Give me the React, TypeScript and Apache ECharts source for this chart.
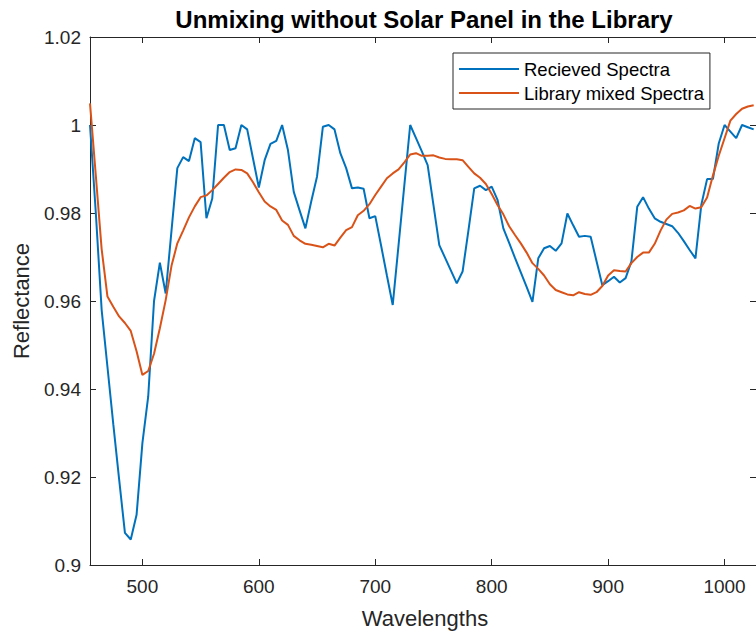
import React, { useEffect, useRef } from "react";
import * as echarts from "echarts";

// Wavelength samples (nm)
const wavelengths = [
  455, 460, 465, 470, 475, 480, 485, 490, 495, 500,
  505, 510, 515, 520, 525, 530, 535, 540, 545, 550,
  555, 560, 565, 570, 575, 580, 585, 590, 595, 600,
  605, 610, 615, 620, 625, 630, 635, 640, 645, 650,
  655, 660, 665, 670, 675, 680, 685, 690, 695, 700,
  705, 710, 715, 720, 725, 730, 735, 740, 745, 750,
  755, 760, 765, 770, 775, 780, 785, 790, 795, 800,
  805, 810, 815, 820, 825, 830, 835, 840, 845, 850,
  855, 860, 865, 870, 875, 880, 885, 890, 895, 900,
  905, 910, 915, 920, 925, 930, 935, 940, 945, 950,
  955, 960, 965, 970, 975, 980, 985, 990, 995, 1000,
  1005, 1010, 1015, 1020, 1025,
];

// Measured reflectance
const receivedSpectra = [
  1.0, 0.98, 0.958, 0.945, 0.932, 0.9195, 0.9073, 0.9058, 0.9114, 0.9277,
  0.9383, 0.96, 0.9687, 0.9617, 0.976, 0.9902, 0.9927, 0.9918, 0.997, 0.9961,
  0.9788, 0.9833, 1.0, 1.0, 0.9943, 0.9947, 1.0, 0.999, 0.9924, 0.9858,
  0.992, 0.9957, 0.9964, 1.0, 0.9943, 0.9848, 0.9806, 0.9765, 0.9826, 0.9883,
  0.9996, 1.0, 0.999, 0.9936, 0.9902, 0.9856, 0.9858, 0.9855, 0.9788, 0.9793,
  0.9726, 0.9658, 0.9591, 0.9727, 0.9864, 1.0, 0.997, 0.994, 0.9909, 0.9818,
  0.9727, 0.9698, 0.9669, 0.964, 0.9667, 0.976, 0.9856, 0.9862, 0.9852, 0.986,
  0.983, 0.9765, 0.9732, 0.9698, 0.9665, 0.9632, 0.9598, 0.9697, 0.972, 0.9725,
  0.9714, 0.9731, 0.9799, 0.9772, 0.9746, 0.9748, 0.9746, 0.9691, 0.9636, 0.9645,
  0.9655, 0.9642, 0.9652, 0.969, 0.9814, 0.9836, 0.981, 0.9788, 0.978, 0.9775,
  0.977, 0.9755, 0.9736, 0.9716, 0.9697, 0.9818, 0.9877, 0.9877, 0.9958, 1.0,
  0.9985, 0.997, 1.0, 0.9995, 0.999,
];

// Reconstructed reflectance from the library endmembers
const libraryMixedSpectra = [
  1.0049, 0.9885, 0.9718, 0.961, 0.9587, 0.9565, 0.955, 0.9532, 0.9486, 0.9432,
  0.9441, 0.948, 0.9538, 0.9602, 0.968, 0.9731, 0.976, 0.979, 0.9815, 0.9836,
  0.984, 0.9852, 0.9866, 0.988, 0.9893, 0.9899, 0.9898, 0.989, 0.987, 0.9847,
  0.9826, 0.9815, 0.9807, 0.9783, 0.9773, 0.9748, 0.9738, 0.973, 0.9728, 0.9725,
  0.9722, 0.973, 0.9726, 0.9744, 0.9761, 0.9768, 0.9795, 0.9805, 0.982, 0.9841,
  0.986, 0.9879, 0.989, 0.9899, 0.9915, 0.9933, 0.9936, 0.993, 0.993, 0.9931,
  0.9926, 0.9923, 0.9922, 0.9922, 0.992, 0.9905, 0.989, 0.988, 0.9866, 0.9843,
  0.9818, 0.9797, 0.977, 0.975, 0.9731, 0.971, 0.9686, 0.9673, 0.9658, 0.9638,
  0.9625, 0.962, 0.9615, 0.9613, 0.962, 0.9616, 0.9614, 0.962, 0.9634, 0.9658,
  0.967, 0.9668, 0.9667, 0.9686, 0.97, 0.971, 0.971, 0.973, 0.976, 0.9785,
  0.9798, 0.9801, 0.9806, 0.9816, 0.981, 0.9813, 0.9835, 0.9885, 0.993, 0.997,
  1.001, 1.0025, 1.0037, 1.0042, 1.0045,
];

const xTickValues = [500, 600, 700, 800, 900, 1000];

const FONT = '"Liberation Sans", Arial, Helvetica, sans-serif';
const AXIS_COLOR = "#262626";

export default function App() {
  const ref = useRef<HTMLDivElement>(null);

  useEffect(() => {
    if (!ref.current) return;
    const chart = echarts.init(ref.current, undefined, { renderer: "svg" });

    const zip = (ys: number[]) => wavelengths.map((w, i) => [w, ys[i]]);

    const axisLine = { show: true, onZero: false, lineStyle: { color: AXIS_COLOR, width: 1 } };
    const tick = { show: true, inside: true, length: 6, lineStyle: { color: AXIS_COLOR, width: 1 } };

    const xBase = { type: "value", min: 455, max: 1027, splitLine: { show: false }, axisLine };
    const yBase = {
      type: "value",
      min: 0.9,
      max: 1.02,
      interval: 0.02,
      splitLine: { show: false },
      axisLine,
      axisTick: tick,
    };

    chart.setOption({
      animation: false,
      textStyle: { fontFamily: FONT },
      grid: { left: 90, top: 37, right: -1, bottom: 66, containLabel: false },
      xAxis: [
        {
          ...xBase,
          position: "bottom",
          axisTick: { ...tick, customValues: xTickValues },
          axisLabel: {
            customValues: xTickValues,
            fontSize: 19,
            color: AXIS_COLOR,
            margin: 12,
            fontFamily: FONT,
            formatter: (v: number) => String(v),
          },
        },
        {
          ...xBase,
          position: "top",
          axisTick: { ...tick, customValues: xTickValues },
          axisLabel: { show: false },
        },
      ],
      yAxis: [
        {
          ...yBase,
          position: "left",
          axisLabel: {
            fontSize: 19,
            color: AXIS_COLOR,
            margin: 9,
            fontFamily: FONT,
            formatter: (v: number) => String(+v.toFixed(2)),
          },
        },
        {
          ...yBase,
          position: "right",
          axisLabel: { show: false },
        },
      ],
      legend: {
        orient: "vertical",
        left: 453,
        top: 53,
        padding: [6, 6, 6, 6],
        icon: "rect",
        itemWidth: 60,
        itemHeight: 2,
        itemGap: 4,
        borderColor: AXIS_COLOR,
        borderWidth: 1,
        borderRadius: 0,
        backgroundColor: "#ffffff",
        textStyle: { fontSize: 18.5, lineHeight: 20, color: "#000000", fontFamily: FONT },
        data: ["Recieved Spectra", "Library mixed Spectra"],
      },
      graphic: [
        {
          type: "text",
          x: 424,
          y: 19,
          style: {
            text: "Unmixing without Solar Panel in the Library",
            font: `bold 24px ${FONT}`,
            fill: "#000000",
            textAlign: "center",
            textVerticalAlign: "middle",
          },
        },
        {
          type: "text",
          x: 425,
          y: 618,
          style: {
            text: "Wavelengths",
            font: `22px ${FONT}`,
            fill: AXIS_COLOR,
            textAlign: "center",
            textVerticalAlign: "middle",
          },
        },
        {
          type: "text",
          x: 21,
          y: 301,
          rotation: Math.PI / 2,
          style: {
            text: "Reflectance",
            font: `22px ${FONT}`,
            fill: AXIS_COLOR,
            textAlign: "center",
            textVerticalAlign: "middle",
          },
        },
      ],
      series: [
        {
          name: "Recieved Spectra",
          type: "line",
          xAxisIndex: 0,
          yAxisIndex: 0,
          data: zip(receivedSpectra),
          symbol: "none",
          lineStyle: { color: "#0072BD", width: 2 },
          itemStyle: { color: "#0072BD" },
        },
        {
          name: "Library mixed Spectra",
          type: "line",
          xAxisIndex: 0,
          yAxisIndex: 0,
          data: zip(libraryMixedSpectra),
          symbol: "none",
          lineStyle: { color: "#D95319", width: 2 },
          itemStyle: { color: "#D95319" },
        },
      ],
    });

    return () => chart.dispose();
  }, []);

  return (
    <div
      ref={ref}
      style={{ position: "absolute", left: 0, top: 0, width: 756, height: 631, background: "#ffffff" }}
    />
  );
}
